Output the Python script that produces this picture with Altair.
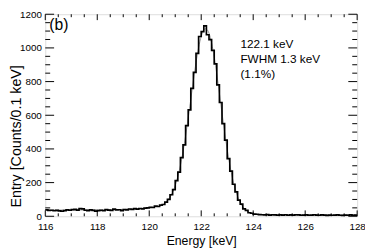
import altair as alt
import pandas as pd

# ---- data ----
BIN_START = 116.0
BIN_WIDTH = 0.1
X_MIN, X_MAX = 116, 128
Y_MIN, Y_MAX = 0, 1200

counts = [
    38, 35, 36, 33, 35, 32, 30, 34, 38, 36,
    40, 41, 37, 45, 44, 36, 34, 38, 35, 31,
    34, 36, 33, 40, 37, 35, 42, 38, 39, 34,
    40, 38, 43, 41, 45, 42, 46, 44, 48, 50,
    53, 52, 60, 58, 66, 70, 84, 100, 128, 158,
    212, 262, 348, 424, 538, 632, 760, 855, 968, 1068,
    1097, 1131, 1078, 1049, 985, 905, 780, 676, 550, 452,
    342, 268, 190, 145, 96, 72, 44, 35, 21, 18,
    13, 12, 10, 9, 8, 10, 7, 9, 8, 6,
    8, 7, 9, 6, 8, 7, 9, 8, 6, 7,
    8, 6, 7, 9, 7, 6, 8, 7, 5, 7,
    6, 7, 8, 6, 5, 7, 6, 8, 6, 7,
]

fit_values = [
    37, 37, 37, 37, 37, 37, 37, 37, 37, 37,
    37, 37, 37, 37, 37, 38, 38, 38, 38, 38,
    38, 38, 39, 39, 39, 39, 40, 40, 40, 41,
    41, 42, 42, 43, 44, 45, 46, 47, 48, 50,
    53, 54, 57, 59, 65, 72, 85, 102, 127, 161,
    208, 267, 341, 430, 530, 640, 752, 862, 960, 1039,
    1092, 1114, 1104, 1062, 990, 897, 788, 672, 556, 448,
    349, 265, 196, 141, 99, 69, 47, 33, 23, 17,
    13, 11, 10, 9, 9, 8, 8, 8, 8, 8,
    8, 8, 8, 8, 8, 8, 8, 8, 8, 8,
    8, 8, 8, 8, 8, 8, 8, 8, 8, 8,
    8, 8, 8, 8, 8, 8, 8, 8, 8, 8,
]

x_major = [116, 118, 120, 122, 124, 126, 128]
x_minor = [116.5, 117, 117.5, 118.5, 119, 119.5, 120.5, 121, 121.5, 122.5, 123,
           123.5, 124.5, 125, 125.5, 126.5, 127, 127.5]
y_major = [0, 200, 400, 600, 800, 1000, 1200]
y_minor = [50, 100, 150, 250, 300, 350, 450, 500, 550, 650, 700, 750, 850, 900,
           950, 1050, 1100, 1150]

panel_label = "(b)"
info_lines = ["122.1 keV", "FWHM 1.3 keV", "(1.1%)"]
x_title = "Energy [keV]"
y_title = "Entry [Counts/0.1 keV]"

# ---- tables ----
n = len(counts)
edges = [round(BIN_START + BIN_WIDTH * i, 2) for i in range(n)] + [X_MAX]
hist_df = pd.DataFrame({"E": edges, "c": counts + [counts[-1]]})
fit_df = pd.DataFrame({"E": [round(BIN_START + BIN_WIDTH * (i + 0.5), 3) for i in range(n)],
                       "c": fit_values})

W, H = 318, 206
FONT = "Liberation Sans"

xs = alt.Scale(domain=[X_MIN, X_MAX], nice=False, zero=False)
ys = alt.Scale(domain=[Y_MIN, Y_MAX], nice=False)

x_axis = alt.Axis(values=x_major, format="d", title=x_title, ticks=False, domain=False,
                  grid=False, labelFont=FONT, labelFontSize=10, labelColor="black",
                  labelPadding=5, labelFlush=False, labelOverlap=False,
                  titleFont=FONT, titleFontSize=12.5,
                  titleFontWeight="normal", titleColor="black", titlePadding=4)
y_axis = alt.Axis(values=y_major, format="d", title=y_title, ticks=False, domain=False,
                  grid=False, labelFont=FONT, labelFontSize=10, labelColor="black",
                  labelPadding=4, labelFlush=False, labelOverlap=False,
                  titleFont=FONT, titleFontSize=14.5,
                  titleFontWeight="normal", titleColor="black", titleAngle=270,
                  titleX=-25, titleY=124, titleAlign="center", titleBaseline="alphabetic")

fit = alt.Chart(fit_df).mark_line(color="#9a9a9a", strokeWidth=1, interpolate="monotone").encode(
    x=alt.X("E:Q", scale=xs, axis=x_axis),
    y=alt.Y("c:Q", scale=ys, axis=y_axis),
)
hist = alt.Chart(hist_df).mark_line(color="black", strokeWidth=1.7, interpolate="step-after").encode(
    x=alt.X("E:Q", scale=xs, axis=x_axis),
    y=alt.Y("c:Q", scale=ys, axis=y_axis),
)

def xticks(vals, y0, y1):
    return alt.Chart(pd.DataFrame({"v": vals})).mark_rule(color="black", strokeWidth=1).encode(
        x=alt.X("v:Q", scale=xs, axis=x_axis), y=alt.value(y0), y2=alt.value(y1))

def yticks(vals, x0, x1):
    return alt.Chart(pd.DataFrame({"v": vals})).mark_rule(color="black", strokeWidth=1).encode(
        y=alt.Y("v:Q", scale=ys, axis=y_axis), x=alt.value(x0), x2=alt.value(x1))

ticks = [
    xticks(x_major, H, H - 6), xticks(x_minor, H, H - 3),
    xticks(x_major, 0, 6), xticks(x_minor, 0, 3),
    yticks(y_major, 0, 9), yticks(y_minor, 0, 5),
    yticks(y_major, W, W - 9), yticks(y_minor, W, W - 5),
]

def text_at(t, px, py, size):
    return alt.Chart(pd.DataFrame({"t": [t]})).mark_text(
        font=FONT, fontSize=size, align="left", baseline="alphabetic", color="black").encode(
        text="t:N", x=alt.value(px), y=alt.value(py))

texts = [text_at(panel_label, 4, 16, 16)]
for line, py in zip(info_lines, [34, 50, 65]):
    texts.append(text_at(line, 199, py, 12))

chart = alt.layer(fit, hist, *ticks, *texts).properties(
    width=W, height=H,
    autosize=alt.AutoSizeParams(type="none"),
    padding={"left": 38, "top": 4, "right": 8, "bottom": 31},
).configure_view(stroke="black", strokeWidth=1).configure(background="white")

chart.save("out.html", embed_options={"renderer": "svg", "actions": False})
